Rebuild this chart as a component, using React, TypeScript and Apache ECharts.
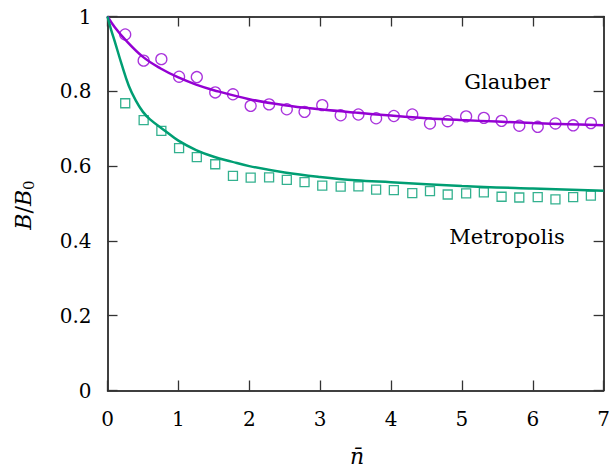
import React, { useEffect, useRef } from "react";
import * as echarts from "echarts";

const nBar = [0.25, 0.51, 0.76, 1.01, 1.26, 1.52, 1.77, 2.02, 2.28, 2.53, 2.78, 3.03, 3.29, 3.54, 3.79, 4.04, 4.3, 4.55, 4.8, 5.06, 5.31, 5.56, 5.81, 6.07, 6.32, 6.57, 6.82];
const glauberSim = [0.952, 0.882, 0.886, 0.839, 0.838, 0.797, 0.792, 0.761, 0.765, 0.752, 0.745, 0.763, 0.736, 0.738, 0.728, 0.734, 0.738, 0.714, 0.72, 0.733, 0.729, 0.721, 0.708, 0.705, 0.714, 0.709, 0.715];
const metropolisSim = [0.768, 0.723, 0.694, 0.648, 0.624, 0.605, 0.574, 0.569, 0.57, 0.563, 0.557, 0.548, 0.545, 0.546, 0.537, 0.536, 0.528, 0.533, 0.524, 0.527, 0.53, 0.518, 0.516, 0.517, 0.511, 0.517, 0.521];

const glauberFitX = [0, 0.1, 0.25, 0.5, 0.75, 1, 1.25, 1.5, 2, 2.5, 3, 3.5, 4, 4.5, 5, 5.5, 6, 6.5, 7];
const glauberFitY = [1, 0.972, 0.938, 0.892, 0.861, 0.837, 0.818, 0.803, 0.779, 0.763, 0.752, 0.743, 0.735, 0.728, 0.723, 0.719, 0.715, 0.712, 0.709];
const metropolisFitX = [0, 0.05, 0.1, 0.2, 0.3, 0.4, 0.5, 0.6, 0.8, 1, 1.25, 1.5, 1.75, 2, 2.5, 3, 3.5, 4, 5, 6, 7];
const metropolisFitY = [1, 0.965, 0.935, 0.872, 0.815, 0.775, 0.745, 0.725, 0.696, 0.668, 0.643, 0.625, 0.612, 0.6, 0.583, 0.571, 0.562, 0.557, 0.547, 0.54, 0.534];

const purple = "#9400d3";
const green = "#009e73";
const FONT = "DejaVu Serif";

export default function App() {
  const ref = useRef<HTMLDivElement>(null);
  useEffect(() => {
    if (!ref.current) return;
    const chart = echarts.init(ref.current, null, { renderer: "svg" });
    const tick = { show: true, inside: true, length: 10, lineStyle: { color: "#333", width: 1.3 } };
    const line = { show: true, onZero: false, lineStyle: { color: "#000", width: 1.5 } };
    const label = { color: "#000", fontFamily: FONT, fontSize: 20 };
    chart.setOption({
      animation: false,
      grid: { left: 107.5, right: 5.5, top: 16.5, bottom: 77.5, containLabel: false },
      xAxis: [
        { type: "value", min: 0, max: 7, interval: 1, position: "bottom", axisLine: line, axisTick: tick, splitLine: { show: false }, axisLabel: { ...label, margin: 18 } },
        { type: "value", min: 0, max: 7, interval: 1, position: "top", axisLine: line, axisTick: tick, splitLine: { show: false }, axisLabel: { show: false } },
      ],
      yAxis: [
        { type: "value", min: 0, max: 1, interval: 0.2, position: "left", axisLine: line, axisTick: tick, splitLine: { show: false }, axisLabel: { ...label, margin: 16, formatter: (v: number) => (v === 0 || v === 1 ? String(v) : v.toFixed(1)) } },
        { type: "value", min: 0, max: 1, interval: 0.2, position: "right", axisLine: line, axisTick: tick, splitLine: { show: false }, axisLabel: { show: false } },
      ],
      series: [
        {
          type: "scatter", name: "Glauber sim", symbol: "circle", symbolSize: 11,
          data: nBar.map((x, i) => [x, glauberSim[i]]),
          itemStyle: { color: "rgba(0,0,0,0)", borderColor: purple, borderWidth: 1.3 },
        },
        {
          type: "scatter", name: "Metropolis sim", symbol: "rect", symbolSize: 9,
          data: nBar.map((x, i) => [x, metropolisSim[i]]),
          itemStyle: { color: "rgba(0,0,0,0)", borderColor: green, borderWidth: 1.3 },
        },
        {
          type: "line", name: "Glauber fit", showSymbol: false, smooth: 0.4,
          data: glauberFitX.map((x, i) => [x, glauberFitY[i]]),
          lineStyle: { color: purple, width: 2.5 },
        },
        {
          type: "line", name: "Metropolis fit", showSymbol: false, smooth: 0.4,
          data: metropolisFitX.map((x, i) => [x, metropolisFitY[i]]),
          lineStyle: { color: green, width: 2.5 },
        },
      ],
      graphic: [
        { type: "text", x: 507, y: 82, style: { text: "Glauber", fontFamily: FONT, fontSize: 21, fill: "#000", align: "center", verticalAlign: "middle" } },
        { type: "text", x: 507, y: 237, style: { text: "Metropolis", fontFamily: FONT, fontSize: 21, fill: "#000", align: "center", verticalAlign: "middle" } },
        { type: "text", x: 357, y: 456, style: { text: "n\u0304", fontFamily: FONT, fontStyle: "italic", fontSize: 22, fill: "#000", align: "center", verticalAlign: "middle" } },
        {
          type: "text", x: 23, y: 205, rotation: Math.PI / 2,
          style: {
            text: "{i|B}{n|/}{i|B}{s|0}", align: "center", verticalAlign: "middle", fill: "#000",
            rich: {
              i: { fontFamily: FONT, fontStyle: "italic", fontSize: 22, fill: "#000" },
              n: { fontFamily: FONT, fontSize: 22, fill: "#000" },
              s: { fontFamily: FONT, fontSize: 15, fill: "#000", padding: [11, 0, 0, 0] },
            },
          },
        },
      ],
    });
    return () => chart.dispose();
  }, []);
  return <div ref={ref} style={{ position: "absolute", left: 0, top: 0, width: 613, height: 468 }} />;
}
